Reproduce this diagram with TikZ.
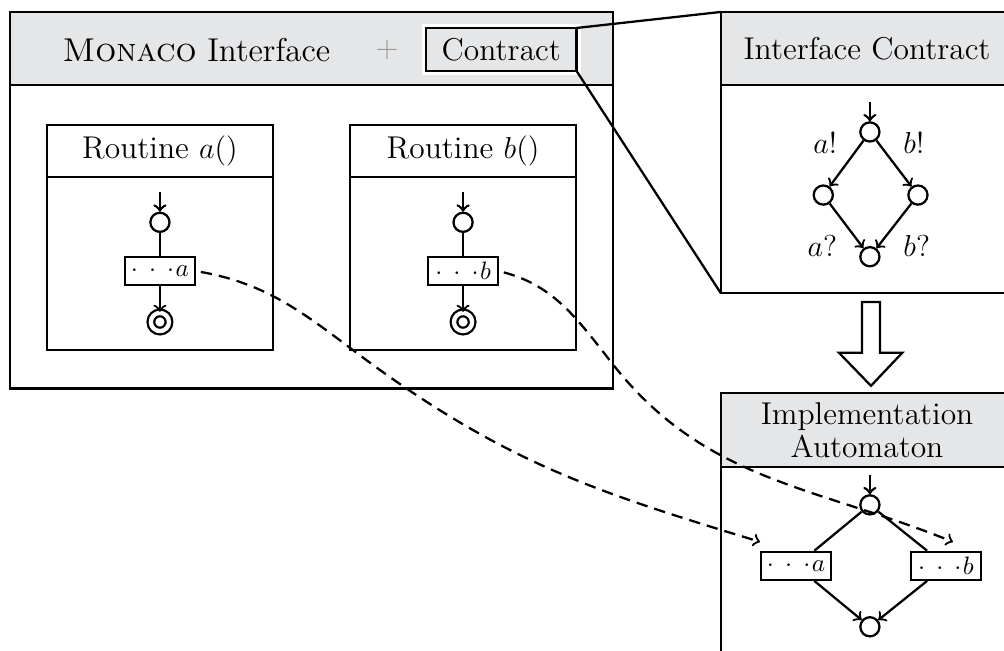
\documentclass[tikz,border=0pt]{standalone}
\usepackage{tikz}
\usetikzlibrary{arrows,automata,positioning}
\usepackage{amsmath}
\usepackage{xcolor}
\definecolor{hdrgray}{RGB}{229,230,232}
\newcommand{\boxfont}{\fontsize{12.5}{13}\selectfont}
\newcommand{\titlefont}{\fontsize{13.1}{16}\selectfont}
\newcommand{\dotsof}[1]{$\cdot\mkern4mu\cdot\mkern4mu\cdot\mkern1mu #1$}

\begin{document}
\begin{tikzpicture}[->,>=to,auto,line width=0.9pt,font=\boxfont,initial text=,initial distance=0.27cm]
    \tikzstyle{every state}=[minimum size=7.6pt,inner sep=0pt,fill=white]
    \tikzstyle{accepting}=[double,double distance=1.7pt,minimum size=7.2pt]
    \tikzstyle{head}=[draw,fill=hdrgray,outer sep=0pt]
    \tikzstyle{body}=[draw,fill=white,outer sep=0pt]
    \tikzstyle{sub}=[rectangle,draw,fill=white,font=\normalsize,minimum width=0.97cm,minimum height=0.39cm,inner sep=1pt]
    \tikzstyle{contract}=[draw,fill=hdrgray,outer sep=0pt,minimum width=2.1cm,minimum height=0.6cm,
        preaction={draw=white,line width=3.4pt}]
    \tikzstyle{link}=[dashed,dash pattern=on 4.5pt off 2.8pt,shorten <=2pt]

    \useasboundingbox (0,0) rectangle (14,-9.064);

    % Monaco side
    \node[head,minimum width=8.41cm,minimum height=1.02cm,anchor=north west] (mhead) at (0.14,-0.167) {};
    \node[body,minimum width=8.41cm,minimum height=4.23cm,below=0pt of mhead] (mbody) {};
    \node[font=\titlefont] (mname) at (2.74,-0.70) {\textsc{Monaco} Interface};
    \node[font=\titlefont,text=black!40] (plus) at (5.40,-0.70) {$+$};
    \node[contract] (contr) at (6.99,-0.69) {Contract};

    \node[draw,outer sep=0pt,minimum width=3.15cm,minimum height=0.73cm,anchor=north west] (rahead) at (0.655,-1.743) {Routine $a()$};
    \node[body,minimum width=3.15cm,minimum height=2.41cm,below=0pt of rahead] (rabody) {};
    \node[draw,outer sep=0pt,minimum width=3.15cm,minimum height=0.73cm,anchor=north west] (rbhead) at (4.881,-1.743) {Routine $b()$};
    \node[body,minimum width=3.15cm,minimum height=2.41cm,below=0pt of rbhead] (rbbody) {};

    \node[state,initial,initial above] (a0) at (2.23,-3.10) {};
    \node[sub]                         (ra) at (2.23,-3.78) {\dotsof{a}};
    \node[state,accepting]             (a1) at (2.23,-4.49) {};
    \draw[-] (a0) -- (ra);
    \draw (ra) -- (a1);

    \node[state,initial,initial above] (b0) at (6.457,-3.10) {};
    \node[sub]                         (rb) at (6.457,-3.78) {\dotsof{b}};
    \node[state,accepting]             (b1) at (6.457,-4.49) {};
    \draw[-] (b0) -- (rb);
    \draw (rb) -- (b1);

    % contract
    \node[head,minimum width=4.08cm,minimum height=1.02cm,anchor=north west] (ichead) at (10.05,-0.167) {Interface Contract};
    \node[body,minimum width=4.08cm,minimum height=2.90cm,below=0pt of ichead] (icbody) {};
    \draw[-] (contr.north east) -- (ichead.north west);
    \draw[-] (contr.south east) -- (icbody.south west);

    \node[state,initial,initial above] (c0) at (12.13,-1.84) {};
    \node[state]                       (c1) at (11.48,-2.72) {};
    \node[state]                       (c2) at (12.80,-2.72) {};
    \node[state]                       (c3) at (12.13,-3.58) {};
    \path (c0) edge node[swap] {$a!$} (c1)
               edge node       {$b!$} (c2)
          (c1) edge node[swap] {$a?$} (c3)
          (c2) edge node       {$b?$} (c3);

    \draw[-,fill=white] (12.02,-4.21) -- (12.27,-4.21) -- (12.27,-4.92) -- (12.58,-4.92)
        -- (12.145,-5.38) -- (11.70,-4.92) -- (12.02,-4.92) -- cycle;

    % implementation
    \node[head,minimum width=4.08cm,minimum height=1.03cm,anchor=north west,align=center] (imhead) at (10.05,-5.48) {Implementation\\Automaton};
    \node[body,minimum width=4.08cm,minimum height=3.0cm,below=0pt of imhead] (imbody) {};

    \node[state,initial,initial above] (i0) at (12.13,-7.04) {};
    \node[sub]                         (ia) at (11.10,-7.89) {\dotsof{a}};
    \node[sub]                         (ib) at (13.19,-7.89) {\dotsof{b}};
    \node[state]                       (i1) at (12.13,-8.74) {};
    \draw[-] (i0) -- (ia);
    \draw[-] (i0) -- (ib);
    \draw (ia) -- (i1);
    \draw (ib) -- (i1);

    \coordinate (wa) at (5.44,-5.26);
    \coordinate (wb) at (8.53,-5.06);
    \draw[link] (ra.east) to[out=-10,in=145] (wa)
        to[out=-35,in=163] ([yshift=3.5pt]ia.north west);
    \draw[link] (rb.east) to[out=-15,in=128] (wb)
        to[out=-52,in=158] ([xshift=2.8pt,yshift=3.5pt]ib.north);
\end{tikzpicture}
\end{document}
